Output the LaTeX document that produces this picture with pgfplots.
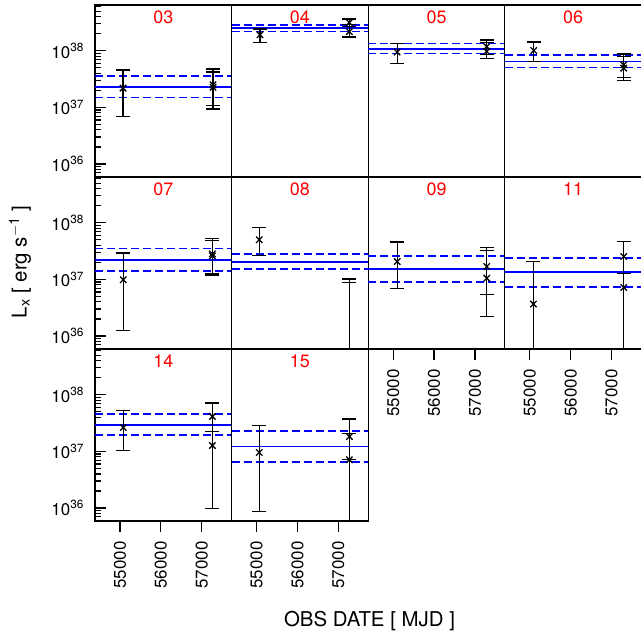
\documentclass[border=0pt]{standalone}
\usepackage{fontspec}
\setmainfont{TeX Gyre Heros}
\usepackage{pgfplots}
\pgfplotsset{compat=1.18}
\pgfplotsset{
  mypanel/.style={
    scale only axis, width=136.6bp, height=172bp,
    anchor=south west,
    clip mode=individual,
    xmin=54390, xmax=57730,
    ymin=5.89e35, ymax=6.46e38,
    axis line style={line width=1.2bp},
    xtick=\empty, ytick=\empty, yminorticks=false,
    scaled x ticks=false,
    xtick pos=bottom, ytick pos=left,
    tick align=outside,
    major tick length=11bp, minor tick length=6bp,
    tick style={black, line width=1.2bp},
    major y tick style={xshift=11bp},
    minor y tick style={xshift=6bp},
    ticklabel style={font=\fontsize{17}{20}\selectfont},
    xticklabel style={yshift=-6bp, rotate=90, anchor=east},
    yticklabel style={xshift=3.5bp},
  },
  myleft/.style={
    yminorticks=true,
    ytick={1e36,1e37,1e38},
    yticklabels={10\textsuperscript{36},10\textsuperscript{37},10\textsuperscript{38}},
    minor ytick={6e35,7e35,8e35,9e35,2e36,3e36,4e36,5e36,6e36,7e36,8e36,9e36,2e37,3e37,4e37,5e37,6e37,7e37,8e37,9e37,2e38,3e38,4e38,5e38,6e38},
  },
  mybottom/.style={
    xtick={55000,56000,57000},
    xticklabels={55000,56000,57000},
  },
  mypts/.style={draw=black, only marks, mark=x, mark size=4.5bp, mark options={line width=1.3bp, solid, draw=black},
    error bars/y dir=both, error bars/y explicit,
    error bars/error bar style={line width=1.3bp, draw=black, solid},
    error bars/error mark=-,
    error bars/error mark options={draw=black, line width=1.3bp, mark size=7bp, rotate=90}},
  mymean/.style={draw=blue, line width=1.8bp, solid, mark=none},
  mydash/.style={draw=blue, line width=1.8bp, dash pattern=on 8bp off 4bp, mark=none},
}
\tikzset{myplab/.style={text=red, font=\fontsize{18}{20}\selectfont, anchor=north, inner sep=0pt, yshift=-6bp}}
\begin{document}
\begin{tikzpicture}
\path[use as bounding box] (0,0) rectangle (641bp,631bp);

% ---------- Row 1 ----------
\begin{semilogyaxis}[mypanel, myleft, at={(95bp,454bp)}]
\addplot[mymean] coordinates {(54390,2.29e37) (57730,2.29e37)};
\addplot[mydash] coordinates {(54390,3.57e37) (57730,3.57e37)};
\addplot[mydash] coordinates {(54390,1.50e37) (57730,1.50e37)};
\addplot[mypts] table[x=x, y=y, y error plus expr=\thisrow{hi}-\thisrow{y}, y error minus expr=\thisrow{y}-\thisrow{lo}] {
x y lo hi
55075 2.19e37 6.90e36 4.56e37
57276 2.51e37 1.07e37 4.75e37
57276 2.26e37 9.33e36 4.21e37
};
\node[myplab] at (rel axis cs:0.5,1) {03};
\end{semilogyaxis}

\begin{semilogyaxis}[mypanel, at={(231.6bp,454bp)}]
\addplot[mymean] coordinates {(54390,2.52e38) (57730,2.52e38)};
\addplot[mydash] coordinates {(54390,2.88e38) (57730,2.88e38)};
\addplot[mydash] coordinates {(54390,2.19e38) (57730,2.19e38)};
\addplot[mypts] table[x=x, y=y, y error plus expr=\thisrow{hi}-\thisrow{y}, y error minus expr=\thisrow{y}-\thisrow{lo}] {
x y lo hi
55083 1.92e38 1.40e38 2.42e38
57269 3.16e38 2.69e38 3.67e38
57269 2.19e38 1.75e38 2.88e38
};
\node[myplab] at (rel axis cs:0.5,1) {04};
\end{semilogyaxis}

\begin{semilogyaxis}[mypanel, at={(368.2bp,454bp)}]
\addplot[mymean] coordinates {(54390,1.07e38) (57730,1.07e38)};
\addplot[mydash] coordinates {(54390,1.35e38) (57730,1.35e38)};
\addplot[mydash] coordinates {(54390,8.96e37) (57730,8.96e37)};
\addplot[mypts] table[x=x, y=y, y error plus expr=\thisrow{hi}-\thisrow{y}, y error minus expr=\thisrow{y}-\thisrow{lo}] {
x y lo hi
55098 9.49e37 5.97e37 1.35e38
57286 1.19e38 8.49e37 1.56e38
57286 9.73e37 7.31e37 1.40e38
};
\node[myplab] at (rel axis cs:0.5,1) {05};
\end{semilogyaxis}

\begin{semilogyaxis}[mypanel, at={(504.8bp,454bp)}]
\addplot[mymean] coordinates {(54390,6.47e37) (57730,6.47e37)};
\addplot[mydash] coordinates {(54390,8.40e37) (57730,8.40e37)};
\addplot[mydash] coordinates {(54390,5.07e37) (57730,5.07e37)};
\addplot[mypts] table[x=x, y=y, y error plus expr=\thisrow{hi}-\thisrow{y}, y error minus expr=\thisrow{y}-\thisrow{lo}] {
x y lo hi
55098 1.01e38 6.40e37 1.43e38
57297 5.66e37 3.37e37 8.75e37
57297 4.94e37 2.95e37 7.93e37
};
\node[myplab] at (rel axis cs:0.5,1) {06};
\end{semilogyaxis}

% ---------- Row 2 ----------
\begin{semilogyaxis}[mypanel, myleft, at={(95bp,282bp)}]
\addplot[mymean] coordinates {(54390,2.22e37) (57730,2.22e37)};
\addplot[mydash] coordinates {(54390,3.52e37) (57730,3.52e37)};
\addplot[mydash] coordinates {(54390,1.40e37) (57730,1.40e37)};
\addplot[mypts] table[x=x, y=y, y error plus expr=\thisrow{hi}-\thisrow{y}, y error minus expr=\thisrow{y}-\thisrow{lo}] {
x y lo hi
55080 9.84e36 1.24e36 2.92e37
57260 2.83e37 1.24e37 5.21e37
57260 2.61e37 1.19e37 4.81e37
};
\node[myplab] at (rel axis cs:0.5,1) {07};
\end{semilogyaxis}

\begin{semilogyaxis}[mypanel, at={(231.6bp,282bp)}]
\addplot[mymean] coordinates {(54390,2.02e37) (57730,2.02e37)};
\addplot[mydash] coordinates {(54390,2.80e37) (57730,2.80e37)};
\addplot[mydash] coordinates {(54390,1.52e37) (57730,1.52e37)};
\addplot[mypts] table[x=x, y=y, y error plus expr=\thisrow{hi}-\thisrow{y}, y error minus expr=\thisrow{y}-\thisrow{lo}] {
x y lo hi
55066 5.01e37 2.61e37 8.26e37
57270 1.0e35 1.0e34 1.01e37
57270 1.0e35 1.0e34 8.81e36
};
\node[myplab] at (rel axis cs:0.5,1) {08};
\end{semilogyaxis}

\begin{semilogyaxis}[mypanel, mybottom, at={(368.2bp,282bp)}]
\addplot[mymean] coordinates {(54390,1.54e37) (57730,1.54e37)};
\addplot[mydash] coordinates {(54390,2.61e37) (57730,2.61e37)};
\addplot[mydash] coordinates {(54390,9.08e36) (57730,9.08e36)};
\addplot[mypts] table[x=x, y=y, y error plus expr=\thisrow{hi}-\thisrow{y}, y error minus expr=\thisrow{y}-\thisrow{lo}] {
x y lo hi
55098 2.07e37 6.82e36 4.56e37
57290 1.69e37 5.41e36 3.61e37
57290 1.05e37 2.21e36 3.20e37
};
\node[myplab] at (rel axis cs:0.5,1) {09};
\end{semilogyaxis}

\begin{semilogyaxis}[mypanel, mybottom, at={(504.8bp,282bp)}]
\addplot[mymean] coordinates {(54390,1.35e37) (57730,1.35e37)};
\addplot[mydash] coordinates {(54390,2.38e37) (57730,2.38e37)};
\addplot[mydash] coordinates {(54390,7.31e36) (57730,7.31e36)};
\addplot[mypts] table[x=x, y=y, y error plus expr=\thisrow{hi}-\thisrow{y}, y error minus expr=\thisrow{y}-\thisrow{lo}] {
x y lo hi
55090 3.66e36 1.0e34 2.07e37
57297 2.54e37 1.0e34 4.68e37
57297 7.19e36 1.0e34 1.26e37
};
\node[myplab] at (rel axis cs:0.5,1) {11};
\end{semilogyaxis}

% ---------- Row 3 ----------
\begin{semilogyaxis}[mypanel, myleft, mybottom, at={(95bp,110bp)}]
\addplot[mymean] coordinates {(54390,2.95e37) (57730,2.95e37)};
\addplot[mydash] coordinates {(54390,4.56e37) (57730,4.56e37)};
\addplot[mydash] coordinates {(54390,1.94e37) (57730,1.94e37)};
\addplot[mypts] table[x=x, y=y, y error plus expr=\thisrow{hi}-\thisrow{y}, y error minus expr=\thisrow{y}-\thisrow{lo}] {
x y lo hi
55080 2.64e37 1.04e37 5.28e37
57260 4.14e37 2.25e37 7.13e37
57260 1.27e37 9.68e35 2.25e37
};
\node[myplab] at (rel axis cs:0.5,1) {14};
\end{semilogyaxis}

\begin{semilogyaxis}[mypanel, mybottom, at={(231.6bp,110bp)}]
\addplot[mymean] coordinates {(54390,1.22e37) (57730,1.22e37)};
\addplot[mydash] coordinates {(54390,2.29e37) (57730,2.29e37)};
\addplot[mydash] coordinates {(54390,6.47e36) (57730,6.47e36)};
\addplot[mypts] table[x=x, y=y, y error plus expr=\thisrow{hi}-\thisrow{y}, y error minus expr=\thisrow{y}-\thisrow{lo}] {
x y lo hi
55066 9.57e36 8.57e35 2.87e37
57270 1.83e37 7.11e36 3.72e37
57270 7.11e36 1.0e34 2.10e37
};
\node[myplab] at (rel axis cs:0.5,1) {15};
\end{semilogyaxis}

\node[rotate=90, font=\fontsize{20.5}{24}\selectfont] at (20bp,369bp) {L\textsubscript{x} [ erg s\textsuperscript{$-$1} ]};
\node[anchor=base, font=\fontsize{20.5}{24}\selectfont] at (369.5bp,5bp) {OBS DATE [ MJD ]};
\end{tikzpicture}
\end{document}
